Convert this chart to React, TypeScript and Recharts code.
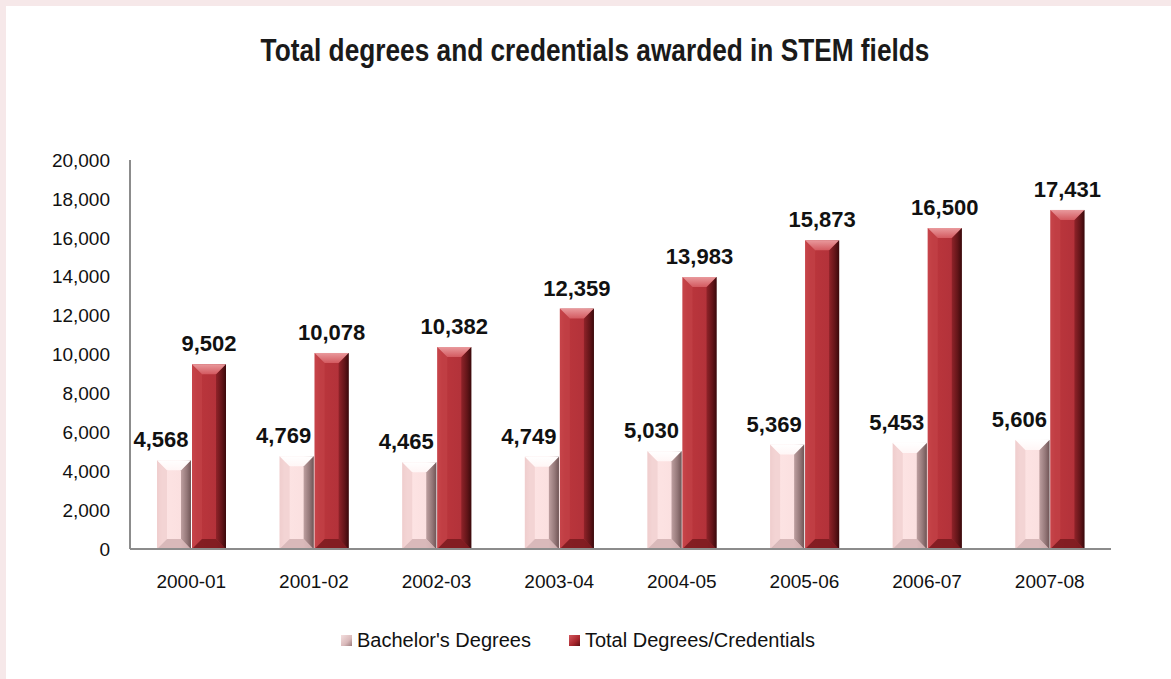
import React from 'react';
import { BarChart, Bar, XAxis, YAxis, LabelList } from 'recharts';

const years = ['2000-01', '2001-02', '2002-03', '2003-04', '2004-05', '2005-06', '2006-07', '2007-08'];
const bachelors = [4568, 4769, 4465, 4749, 5030, 5369, 5453, 5606];
const totals = [9502, 10078, 10382, 12359, 13983, 15873, 16500, 17431];
const yTicks = [0, 2000, 4000, 6000, 8000, 10000, 12000, 14000, 16000, 18000, 20000];

const data = years.map((year, i) => ({ year, bachelors: bachelors[i], total: totals[i] }));

const FONT = '"Liberation Sans", Arial, sans-serif';

// colours for the bevelled bars
const pal: Record<string, any> = {
    pink: {
        body: ['#f3d3d3', '#fde4e4', '#fbe0e0', '#cdaeaf', '#7d6162'],
        top: ['#ffffff', '#fff6f6'],
        bottom: '#d2b2b3',
        left: '#ecc9ca',
        right: ['#b39495', '#6e5354'],
    },
    red: {
        body: ['#c9454b', '#bb363c', '#b3323a', '#8e2227', '#3e0a0d'],
        top: ['#e9999c', '#d35a60'],
        bottom: '#7a1a1f',
        left: '#c4444a',
        right: ['#8a2026', '#3a090b'],
    },
};

const BevelBar = (props: any) => {
    const { x, y, width: w, height: h, tone } = props;
    if (!h || h <= 0) return null;
    const c = pal[tone];
    const b = Math.min(10, h / 2);
    const id = `g-${tone}`;
    return (
        <g>
            <defs>
                <linearGradient id={`${id}-body`} x1="0" y1="0" x2="1" y2="0">
                    <stop offset="0%" stopColor={c.body[0]} />
                    <stop offset="15%" stopColor={c.body[1]} />
                    <stop offset="70%" stopColor={c.body[2]} />
                    <stop offset="88%" stopColor={c.body[3]} />
                    <stop offset="100%" stopColor={c.body[4]} />
                </linearGradient>
                <linearGradient id={`${id}-top`} x1="0" y1="0" x2="0" y2="1">
                    <stop offset="0%" stopColor={c.top[0]} />
                    <stop offset="100%" stopColor={c.top[1]} />
                </linearGradient>
                <linearGradient id={`${id}-right`} x1="0" y1="0" x2="1" y2="0">
                    <stop offset="0%" stopColor={c.right[0]} />
                    <stop offset="100%" stopColor={c.right[1]} />
                </linearGradient>
            </defs>
            <rect x={x} y={y} width={w} height={h} fill={`url(#${id}-body)`} />
            <polygon
                points={`${x},${y} ${x + b},${y + b} ${x + b},${y + h - b} ${x},${y + h}`}
                fill={c.left}
                opacity={0.6}
            />
            <polygon
                points={`${x + w},${y} ${x + w - b},${y + b} ${x + w - b},${y + h - b} ${x + w},${y + h}`}
                fill={`url(#${id}-right)`}
                opacity={0.85}
            />
            <polygon
                points={`${x},${y + h} ${x + w},${y + h} ${x + w - b},${y + h - b} ${x + b},${y + h - b}`}
                fill={c.bottom}
                opacity={0.85}
            />
            <polygon
                points={`${x},${y} ${x + w},${y} ${x + w - b},${y + b} ${x + b},${y + b}`}
                fill={`url(#${id}-top)`}
            />
        </g>
    );
};

const ValueLabel = (props: any) => {
    const { x, y, width, value, dx = 0 } = props;
    return (
        <text
            x={x + width / 2 + dx}
            y={y - 13}
            textAnchor="middle"
            fontFamily={FONT}
            fontWeight="bold"
            fontSize={22}
            fill="#111"
        >
            {Number(value).toLocaleString('en-US')}
        </text>
    );
};

const LegendIcon = ({ tone }: { tone: string }) => {
    const bg = tone === 'pink'
        ? 'linear-gradient(135deg, #f4dede 0%, #d9b9ba 60%, #9a7b7c 100%)'
        : 'linear-gradient(135deg, #d4585e 0%, #a8262d 60%, #5c0f13 100%)';
    return <span style={{ display: 'inline-block', width: 11, height: 11, background: bg, marginRight: 5 }} />;
};

export default function App() {
    return (
        <div style={{ position: 'absolute', left: 0, top: 0, width: 1171, height: 679, background: '#f6e8e9' }}>
            <div style={{ position: 'absolute', left: 6, top: 6, right: 0, bottom: 0, background: '#ffffff' }} />

            {/* no narrow font installed, so squeeze the bold title horizontally */}
            <div
                style={{
                    position: 'absolute',
                    left: 0,
                    top: 32,
                    width: 1190,
                    textAlign: 'center',
                    fontFamily: FONT,
                    fontWeight: 'bold',
                    fontSize: 32,
                    color: '#1a1a1a',
                    transform: 'scaleX(0.82)',
                    transformOrigin: '595px 0',
                }}
            >
                Total degrees and credentials awarded in STEM fields
            </div>

            <div style={{ position: 'absolute', left: 0, top: 0 }}>
                <BarChart
                    width={1171}
                    height={679}
                    data={data}
                    margin={{ top: 160, right: 60, bottom: 90, left: 30 }}
                    barGap={1}
                    barSize={34}
                >
                    <XAxis
                        dataKey="year"
                        stroke="#8c8c8c"
                        strokeWidth={2}
                        tickLine={false}
                        tickSize={0}
                        tickMargin={26}
                        height={40}
                        tick={{ fontFamily: FONT, fontSize: 19, fill: '#111' }}
                    />
                    <YAxis
                        domain={[0, 20000]}
                        ticks={yTicks}
                        interval={0}
                        width={100}
                        stroke="#8c8c8c"
                        strokeWidth={2}
                        tickLine={false}
                        tickSize={0}
                        tickMargin={20}
                        tickFormatter={(v: number) => v.toLocaleString('en-US')}
                        tick={{ fontFamily: FONT, fontSize: 19, fill: '#111' }}
                    />
                    <Bar dataKey="bachelors" isAnimationActive={false} shape={(p: any) => <BevelBar {...p} tone="pink" />}>
                        <LabelList dataKey="bachelors" content={(p: any) => <ValueLabel {...p} dx={-13} />} />
                    </Bar>
                    <Bar dataKey="total" isAnimationActive={false} shape={(p: any) => <BevelBar {...p} tone="red" />}>
                        <LabelList dataKey="total" content={(p: any) => <ValueLabel {...p} />} />
                    </Bar>
                </BarChart>
            </div>

            <div
                style={{
                    position: 'absolute',
                    left: 341,
                    top: 629,
                    display: 'flex',
                    alignItems: 'center',
                    fontFamily: FONT,
                    fontSize: 20,
                    color: '#111',
                    whiteSpace: 'nowrap',
                }}
            >
                <LegendIcon tone="pink" />
                <span>Bachelor's Degrees</span>
                <span style={{ display: 'inline-block', width: 38 }} />
                <LegendIcon tone="red" />
                <span>Total Degrees/Credentials</span>
            </div>
        </div>
    );
}
